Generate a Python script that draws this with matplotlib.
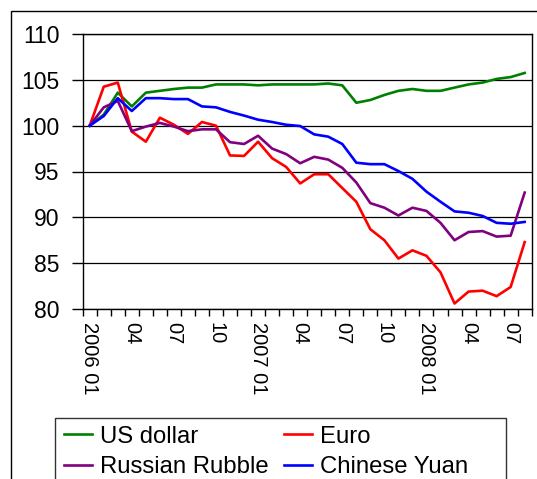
import numpy as np
import matplotlib
matplotlib.use("Agg")
import matplotlib.pyplot as plt
from matplotlib.patches import Rectangle

plt.rcParams['font.family'] = ['Liberation Sans', 'DejaVu Sans']

# monthly index, 2006-01 .. 2008-08 (2006-01 = 100)
months = ["2006 01", "", "", "04", "", "", "07", "", "", "10", "", "",
          "2007 01", "", "", "04", "", "", "07", "", "", "10", "", "",
          "2008 01", "", "", "04", "", "", "07", ""]

us_dollar = [100.0, 101.2, 103.6, 102.1, 103.6, 103.8, 104.0, 104.15, 104.15, 104.5,
             104.5, 104.5, 104.4, 104.5, 104.5, 104.5, 104.5, 104.6, 104.4, 102.5,
             102.8, 103.35, 103.8, 104.0, 103.8, 103.8, 104.15, 104.5, 104.7, 105.1,
             105.3, 105.75]
euro = [100.0, 104.25, 104.7, 99.35, 98.25, 100.87, 100.1, 99.1, 100.4, 100.0,
        96.75, 96.7, 98.25, 96.45, 95.5, 93.7, 94.7, 94.7, 93.2, 91.7,
        88.7, 87.5, 85.5, 86.4, 85.8, 84.0, 80.6, 81.9, 82.0, 81.4,
        82.4, 87.3]
rubble = [100.0, 102.0, 102.7, 99.4, 99.9, 100.3, 99.9, 99.4, 99.6, 99.6,
          98.2, 98.0, 98.9, 97.5, 96.9, 95.9, 96.6, 96.3, 95.4, 93.8,
          91.55, 91.05, 90.2, 91.05, 90.7, 89.4, 87.5, 88.4, 88.5, 87.9,
          88.0, 92.7]
yuan = [100.0, 101.05, 103.0, 101.6, 103.0, 103.0, 102.9, 102.9, 102.1, 102.0,
        101.5, 101.1, 100.65, 100.4, 100.1, 99.96, 99.05, 98.8, 98.0, 95.96,
        95.8, 95.8, 95.05, 94.2, 92.8, 91.7, 90.65, 90.5, 90.15, 89.4,
        89.3, 89.5]

W, H = 537, 479
fig = plt.figure(figsize=(W / 100, H / 100), dpi=100)
ax = fig.add_axes([82.7 / W, 1 - 309 / H, (531.7 - 82.7) / W, (309 - 34) / H])

x = np.arange(len(months))
l_us, = ax.plot(x, us_dollar, color='#008000', lw=1.9, label='US dollar')
l_eu, = ax.plot(x, euro, color='#ff0000', lw=1.9, label='Euro')
l_ru, = ax.plot(x, rubble, color='#800080', lw=1.9, label='Russian Rubble')
l_cn, = ax.plot(x, yuan, color='#0000ff', lw=1.9, label='Chinese Yuan')

ax.set_xlim(-0.5, len(months) - 0.5)
ax.set_ylim(80, 110)
ax.set_yticks(np.arange(80, 111, 5))
ax.yaxis.grid(True, color='black', lw=0.9)
ax.set_axisbelow(True)
ax.tick_params(axis='y', direction='out', length=8, width=1, labelsize=16.5, pad=8.5)

# tick marks between months, labels centred on months
ax.set_xticks(np.arange(-0.5, len(months), 1))
ax.set_xticklabels([])
lab_pos = [i for i, m in enumerate(months) if m]
ax.set_xticks(lab_pos, [months[i] for i in lab_pos], minor=True)
ax.tick_params(axis='x', which='major', direction='out', length=5, width=1)
ax.tick_params(axis='x', which='minor', length=0, labelsize=14.5, pad=9, labelrotation=-90)
for t in ax.get_xticklabels(minor=True):
    t.set_va('top')
    t.set_ha('center')

for s in ax.spines.values():
    s.set_color('black')
    s.set_linewidth(1)

# legend, frame drawn by hand so the box can run off the bottom
handles = [l_us, l_ru, l_eu, l_cn]
leg = fig.legend(handles, [h.get_label() for h in handles],
                 loc='upper left', bbox_to_anchor=(59 / W, 1 - 421 / H), ncol=2,
                 frameon=False, fontsize=17.2, handlelength=1.2, handletextpad=0.3,
                 columnspacing=0.65, labelspacing=0.36, borderaxespad=0, borderpad=0.2)
for ln in leg.get_lines():
    ln.set_linewidth(1.9)
fig.add_artist(Rectangle((55 / W, -0.1), (506 - 55) / W, 0.1 + 1 - 418 / H,
                         transform=fig.transFigure, fill=False, lw=1, ec='#333333'))

# outer chart frame (runs off the right and bottom edges)
fig.add_artist(Rectangle((10.5 / W, -0.1), 1.2, 0.1 + 1 - 10.5 / H,
                         transform=fig.transFigure, fill=False, lw=1, ec='black'))

fig.savefig('out.png', dpi=100)
